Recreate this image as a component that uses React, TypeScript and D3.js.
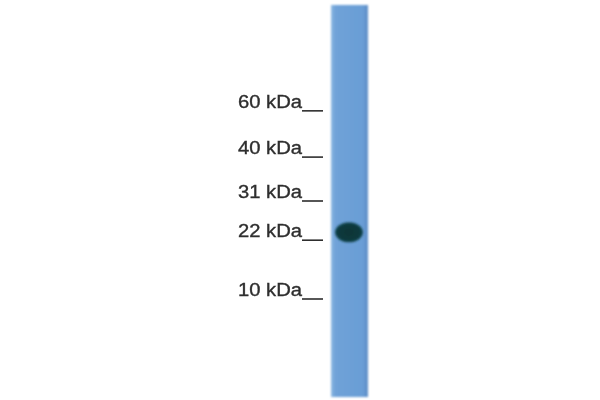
import * as d3 from "d3";

// molecular weight markers (kDa) and how far each ran down the lane (% of lane length)
const markerLabels = ["60 kDa", "40 kDa", "31 kDa", "22 kDa", "10 kDa"];
const markerMigration = [27.0, 38.8, 50.0, 60.0, 75.0];

// detected band in the sample lane
const bandMigration = [58.0];

const W = 600;
const H = 400;

export default function App() {
  const lane = { x0: 331, x1: 368, top: 5, bottom: 397 };
  const y = d3.scaleLinear().domain([0, 100]).range([lane.top, lane.bottom]);
  const laneMid = (lane.x0 + lane.x1) / 2;

  return (
    <div style={{ position: "fixed", left: 0, top: 0 }}>
      <svg width={W} height={H} style={{ display: "block", background: "#fff" }}>
        <defs>
          <linearGradient id="laneFill" x1="0" x2="1" y1="0" y2="0">
            <stop offset="0" stopColor="#8cb8e2" />
            <stop offset="0.12" stopColor="#6fa2d8" />
            <stop offset="0.85" stopColor="#6a9ed6" />
            <stop offset="1" stopColor="#5d8dc6" />
          </linearGradient>
          <radialGradient id="bandFill" cx="0.5" cy="0.5" r="0.5">
            <stop offset="0" stopColor="#0c3436" />
            <stop offset="0.8" stopColor="#0e3a3d" />
            <stop offset="1" stopColor="#1b4c58" />
          </radialGradient>
          <filter id="soft" x="-20%" y="-20%" width="140%" height="140%">
            <feGaussianBlur stdDeviation="0.9" />
          </filter>
          <filter id="softText">
            <feGaussianBlur stdDeviation="0.35" />
          </filter>
        </defs>

        {/* lane */}
        <rect
          x={lane.x0}
          y={lane.top}
          width={lane.x1 - lane.x0}
          height={lane.bottom - lane.top}
          fill="url(#laneFill)"
          filter="url(#soft)"
        />

        {/* band */}
        {bandMigration.map((m, i) => (
          <ellipse
            key={i}
            cx={laneMid - 0.5}
            cy={y(m)}
            rx={14}
            ry={10}
            fill="url(#bandFill)"
            filter="url(#soft)"
          />
        ))}

        {/* marker labels */}
        <g filter="url(#softText)" fill="#2e2e2e" fontFamily="Liberation Sans, Arial, sans-serif">
          {markerLabels.map((t, i) => {
            const ty = y(markerMigration[i]);
            return (
              <g key={t}>
                <text
                  x={302}
                  y={ty - 3}
                  textAnchor="end"
                  fontSize={18}
                  textLength={64}
                  lengthAdjust="spacingAndGlyphs"
                  stroke="#2e2e2e"
                  strokeWidth={0.35}
                >
                  {t}
                </text>
                <line x1={302} x2={323} y1={ty} y2={ty} stroke="#2e2e2e" strokeWidth={1.6} />
              </g>
            );
          })}
        </g>
      </svg>
    </div>
  );
}
